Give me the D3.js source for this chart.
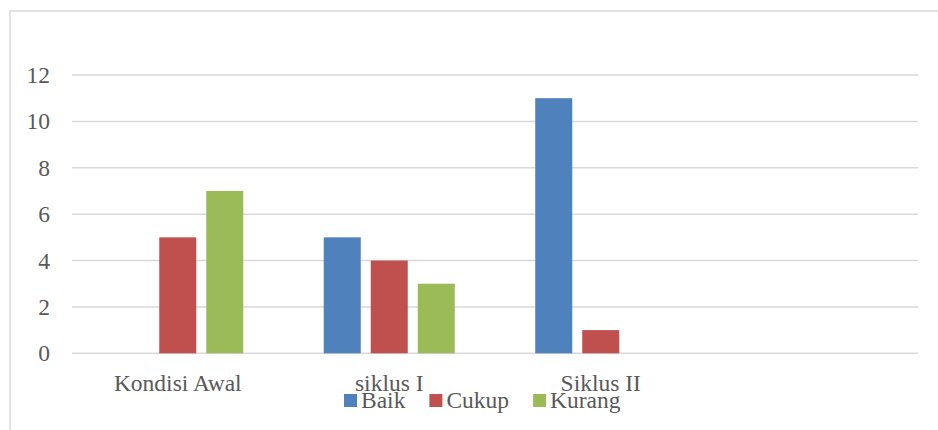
<!DOCTYPE html>
<html>
<head>
<meta charset="utf-8">
<script src="https://cdn.jsdelivr.net/npm/d3@7/dist/d3.min.js"></script>
<style>
  html, body { margin: 0; padding: 0; background: #fff; }
  svg { display: block; }
</style>
</head>
<body>
<div id="chart"></div>
<script>
// chart data
const categories = ["Kondisi Awal", "siklus I", "Siklus II", ""];
const seriesNames = ["Baik", "Cukup", "Kurang"];
const baik = [0, 5, 11, null];
const cukup = [5, 4, 1, null];
const kurang = [7, 3, 0, null];
const yTicks = [0, 2, 4, 6, 8, 10, 12];

const colors = { Baik: "#4F81BD", Cukup: "#C0504D", Kurang: "#9BBB59" };
const seriesValues = { Baik: baik, Cukup: cukup, Kurang: kurang };

const FONT = "'Liberation Serif', 'Times New Roman', serif";
const FS = 23.5;

const W = 938, H = 430;
const margin = { top: 75, right: 20, bottom: 76.7, left: 72 };
const width = W - margin.left - margin.right,
  height = H - margin.top - margin.bottom;

const svg = d3.select("#chart").append("svg")
  .attr("width", W)
  .attr("height", H)
  .style("font-family", FONT);

// outer frame
svg.append("rect")
  .attr("x", 10).attr("y", 11)
  .attr("width", 940).attr("height", 440)
  .attr("fill", "none")
  .attr("stroke", "#D9D9D9")
  .attr("stroke-width", 1.5);

const g = svg.append("g")
  .attr("transform", `translate(${margin.left},${margin.top})`);

const x0 = d3.scaleBand().domain(categories).range([0, width]);
const x1 = d3.scaleBand().domain(seriesNames)
  .range([0, x0.bandwidth()])
  .paddingInner(10 / 47)
  .paddingOuter(0.856);
const y = d3.scaleLinear().domain([0, 12]).range([height, 0]);

// gridlines
g.append("g")
  .selectAll("line")
  .data(yTicks)
  .join("line")
  .attr("x1", 0).attr("x2", width)
  .attr("y1", d => y(d)).attr("y2", d => y(d))
  .attr("stroke", "#D9D9D9")
  .attr("stroke-width", 1.5);

// y labels
g.append("g")
  .selectAll("text")
  .data(yTicks)
  .join("text")
  .attr("x", -22)
  .attr("y", d => y(d))
  .attr("dy", "0.34em")
  .attr("text-anchor", "end")
  .style("font-family", FONT)
  .style("font-size", FS + "px")
  .attr("fill", "#595959")
  .text(d => d);

// bars
const bars = [];
categories.forEach((c, i) => {
  seriesNames.forEach(s => {
    const v = seriesValues[s][i];
    if (v) bars.push({ cat: c, series: s, value: v });
  });
});

g.append("g")
  .selectAll("rect")
  .data(bars)
  .join("rect")
  .attr("x", d => x0(d.cat) + x1(d.series))
  .attr("y", d => y(d.value))
  .attr("width", x1.bandwidth())
  .attr("height", d => y(0) - y(d.value))
  .attr("fill", d => colors[d.series]);

// category labels
g.append("g")
  .selectAll("text")
  .data(categories)
  .join("text")
  .attr("x", d => x0(d) + x0.bandwidth() / 2)
  .attr("y", height + 37.5)
  .attr("text-anchor", "middle")
  .style("font-family", FONT)
  .style("font-size", FS + "px")
  .attr("fill", "#595959")
  .text(d => d);

// legend
const legend = svg.append("g");
let lx = 344;
seriesNames.forEach(s => {
  legend.append("rect")
    .attr("x", lx).attr("y", 394)
    .attr("width", 13).attr("height", 13)
    .attr("fill", colors[s]);
  const t = legend.append("text")
    .attr("x", lx + 17)
    .attr("y", 408)
    .style("font-family", FONT)
    .style("font-size", FS + "px")
    .attr("fill", "#595959")
    .text(s);
  lx += 17 + t.node().getComputedTextLength() + 24;
});
</script>
</body>
</html>
